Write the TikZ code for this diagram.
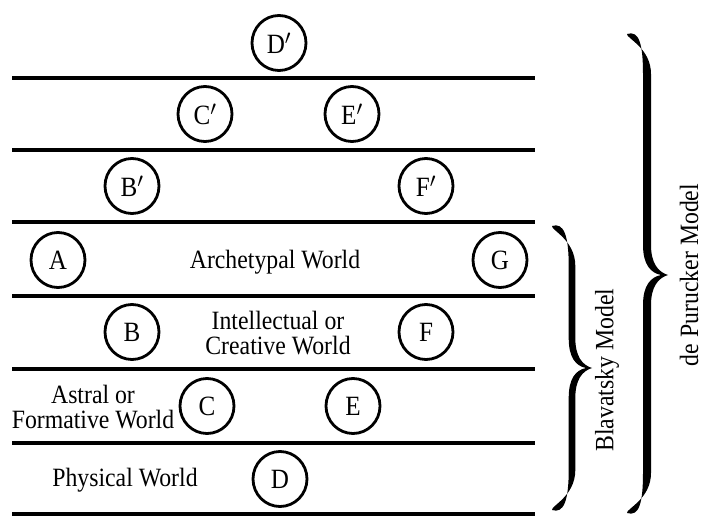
\documentclass[tikz,border=0pt]{standalone}
\usepackage{fontspec}
\usetikzlibrary{shapes.geometric}
\setmainfont{Liberation Serif}
\newfontfamily\narrowserif[FakeStretch=0.9]{Liberation Serif}
% #1 body x, #2 tip x, #3 top y, #4 tip y, #5 bottom y, #6 half thickness, #7 tip notch depth
\newcommand{\drawbrace}[7]{%
  \fill ({#1-20},{#3})
    .. controls ({#1-8},{#3-4}) and ({#1-#6},{#3+10}) .. ({#1-#6},{#3+40})
    -- ({#1-#6},{#4-30})
    .. controls ({#1-#6},{#4-10}) and ({#2-#7-10},{#4-2}) .. ({#2-#7},{#4})
    .. controls ({#2-#7-10},{#4+2}) and ({#1-#6},{#4+10}) .. ({#1-#6},{#4+30})
    -- ({#1-#6},{#5-40})
    .. controls ({#1-#6},{#5-10}) and ({#1-8},{#5+4}) .. ({#1-20},{#5})
    .. controls ({#1-21},{#5-4}) and ({#1+#6},{#5-14}) .. ({#1+#6},{#5-40})
    -- ({#1+#6},{#4+30})
    .. controls ({#1+#6},{#4+12}) and ({#2-10},{#4+3}) .. ({#2},{#4})
    .. controls ({#2-10},{#4-3}) and ({#1+#6},{#4-12}) .. ({#1+#6},{#4-30})
    -- ({#1+#6},{#3+40})
    .. controls ({#1+#6},{#3+14}) and ({#1-21},{#3+4}) .. ({#1-20},{#3}) -- cycle;}
\begin{document}
\begin{tikzpicture}[x=1bp,y=-1bp,
  world/.style={line width=3.2bp},
  orb/.style={draw,ellipse,line width=2.8bp,minimum width=54bp,minimum height=55bp,inner sep=0pt,
    font=\narrowserif\fontsize{28}{28}\selectfont},
  lbl/.style={align=center,font=\narrowserif\fontsize{26.5}{25}\selectfont,inner sep=0pt},
  model/.style={rotate=90,font=\narrowserif\fontsize{26.5}{26}\selectfont,inner sep=0pt}]
\useasboundingbox (0,0) rectangle (704,516);
% world boundaries
\foreach \y in {78,150,222,296,369,443,514}
  \draw[world] (12,\y) -- (535,\y);
% circles
\node[orb] (Dp) at (279,43) {D$'$};
\node[orb] (Cp) at (205,114) {C$'$};
\node[orb] (Ep) at (352,114) {E$'$};
\node[orb] (Bp) at (132,186) {B$'$};
\node[orb] (Fp) at (426,186) {F$'$};
\node[orb] (A) at (58,260) {A};
\node[orb] (G) at (500,260) {G};
\node[orb] (B) at (132,332) {B};
\node[orb] (F) at (426,332) {F};
\node[orb] (C) at (207,406) {C};
\node[orb] (E) at (353,406) {E};
\node[orb] (D) at (280,479) {D};
% world labels
\node[lbl] (arch) at (275,262) {Archetypal World};
\node[lbl] (intel) at (278,333) {Intellectual or\\Creative World};
\node[lbl] (astral) at (93,407) {Astral or\\Formative World};
\node[lbl] (phys) at (125,480) {Physical World};
% braces
\drawbrace{572}{592}{226}{368}{510}{3.3}{6}
\drawbrace{647}{668}{34}{275}{513}{4}{7}
\node[model] (blav) at (607,370) {Blavatsky Model};
\node[model] (pur) at (689,275) {de Purucker Model};
\end{tikzpicture}
\end{document}
